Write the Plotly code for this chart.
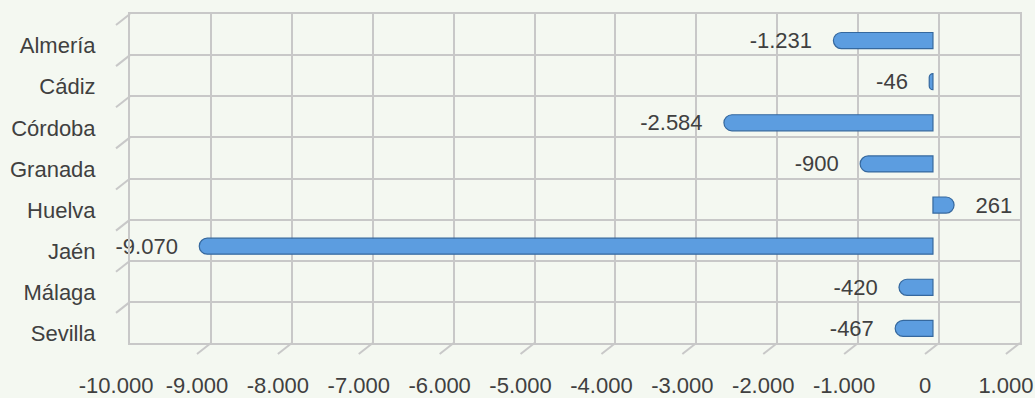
import plotly.graph_objects as go

provincias = ["Almería", "Cádiz", "Córdoba", "Granada", "Huelva", "Jaén", "Málaga", "Sevilla"]
variacion = [-1231, -46, -2584, -900, 261, -9070, -420, -467]
x_ticks = list(range(-10000, 1001, 1000))
x_ticktext = [f"{v:,}".replace(",", ".") for v in x_ticks]

FONT = "Liberation Sans Narrow, Arial Narrow, Liberation Sans, Arial, sans-serif"
BG = "#f4f8f1"
GRID = "#c8c8c8"
TXT = "#404040"

# rango del eje x; las barras van en un eje superpuesto algo desplazado (efecto 3D)
x_rng = [-10001, 1001]
shift = 75

# separación entre etiqueta y barra (espacios duros)
pad = "\u00a0" * 3
plantillas = [("%{x:,}" + pad) if v < 0 else (pad + "%{x:,}") for v in variacion]

fig = go.Figure()
fig.add_trace(go.Bar(
    y=provincias,
    x=variacion,
    orientation="h",
    xaxis="x2",
    width=0.39,
    offset=-0.05,
    marker=dict(color="#5c9de0", line=dict(color="#35689e", width=1.2), cornerradius=8),
    texttemplate=plantillas,
    textposition="outside",
    constraintext="none",
    textfont=dict(size=22, color=TXT, family=FONT),
    cliponaxis=False,
    hoverinfo="skip",
))

shapes = []
# marcas diagonales de perspectiva, eje x
for v in x_ticks:
    shapes.append(dict(type="line", xref="x", yref="paper",
                       xsizemode="pixel", xanchor=v, x0=0, x1=-14,
                       ysizemode="pixel", yanchor=0, y0=0, y1=-11,
                       line=dict(color=GRID, width=2)))
# marcas diagonales, eje y (en los límites de categoría)
for i in range(len(provincias) + 1):
    shapes.append(dict(type="line", xref="paper", yref="y",
                       xsizemode="pixel", xanchor=0, x0=0, x1=-14,
                       ysizemode="pixel", yanchor=i - 0.5, y0=0, y1=-11,
                       line=dict(color=GRID, width=2)))

fig.update_layout(
    width=1035, height=398,
    margin=dict(l=130, r=15, t=14, b=55),
    paper_bgcolor=BG,
    plot_bgcolor=BG,
    separators=",.",
    showlegend=False,
    font=dict(family=FONT, size=22, color=TXT),
    shapes=shapes,
    xaxis=dict(
        range=x_rng, tickvals=x_ticks, ticktext=x_ticktext, tickangle=0, automargin=False,
        showgrid=True, gridcolor=GRID, gridwidth=2,
        zeroline=False, showline=True, linecolor=GRID, linewidth=2, mirror=True,
        ticks="", ticklabelshift=-14, ticklabelstandoff=22,
        tickfont=dict(size=22, color=TXT),
    ),
    xaxis2=dict(
        range=[x_rng[0] + shift, x_rng[1] + shift], overlaying="x",
        visible=False, showgrid=False,
    ),
    yaxis=dict(
        categoryorder="array", categoryarray=provincias,
        range=[len(provincias) - 0.5, -0.5], automargin=False,
        tickson="boundaries", showgrid=True, gridcolor=GRID, gridwidth=2,
        zeroline=False, showline=True, linecolor=GRID, linewidth=2, mirror=True,
        ticks="", ticklabelshift=-11, ticklabelstandoff=28,
        tickfont=dict(size=22, color=TXT),
    ),
)

fig.write_html(
    "out.html",
    config={"displayModeBar": False},
    post_script="document.body.style.margin='0';document.body.style.background='%s';" % BG,
)
